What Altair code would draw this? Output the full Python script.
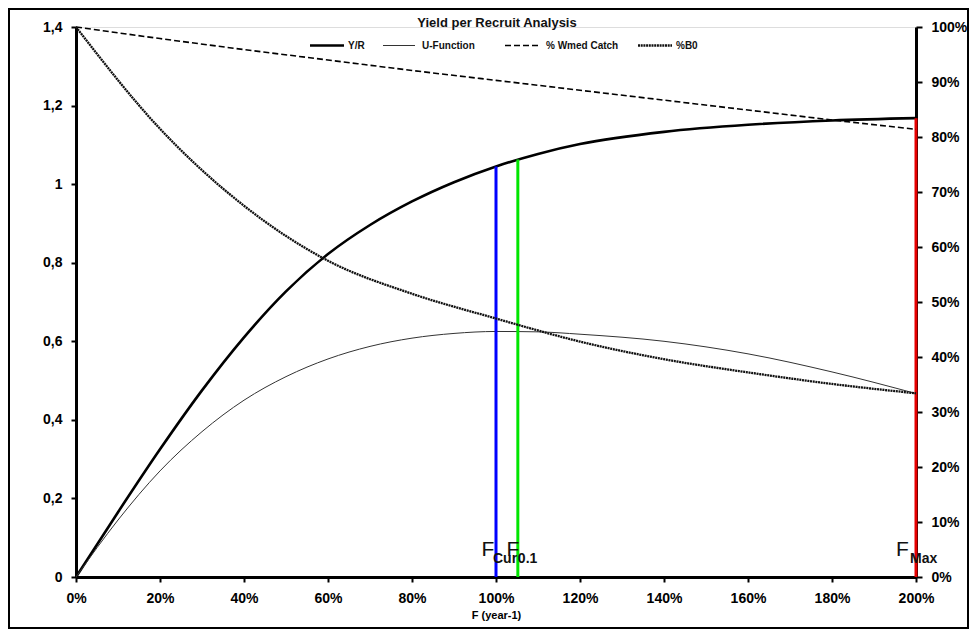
import altair as alt
import pandas as pd

# ---------------- data ----------------
F_curve = [0.0, 0.1, 0.2, 0.3, 0.4, 0.5, 0.6, 0.7, 0.8, 0.9, 1.0, 1.1, 1.2, 1.4, 1.6, 1.8, 2.0]
yield_per_recruit = [0.0, 0.165, 0.325, 0.475, 0.61, 0.727, 0.822, 0.896, 0.956, 1.005, 1.045,
                     1.077, 1.102, 1.133, 1.151, 1.162, 1.168]
u_function = [0.0, 0.145, 0.27, 0.37, 0.45, 0.51, 0.555, 0.587, 0.608, 0.62, 0.625,
              0.624, 0.618, 0.600, 0.568, 0.522, 0.467]

F_pct = [0.0, 0.2, 0.4, 0.6, 0.8, 1.0, 1.2, 1.4, 1.6, 1.8, 2.0]
wmed_catch_pct = [100, 97.9, 95.9, 94.0, 92.1, 90.3, 88.5, 86.7, 84.9, 83.1, 81.4]
b0_pct = [100, 81.5, 67.5, 57.5, 51.5, 47, 42.8, 39.6, 37.2, 35.1, 33.4]

ref_names = ["Cur", "0.1", "Max"]
ref_F = [1.0, 1.052, 2.0]
ref_top = [1.045, 1.063, 1.168]
ref_colors = ["#0000ff", "#00e600", "#e60000"]

x_ticks = [0.0, 0.2, 0.4, 0.6, 0.8, 1.0, 1.2, 1.4, 1.6, 1.8, 2.0]
left_ticks = [0.0, 0.2, 0.4, 0.6, 0.8, 1.0, 1.2, 1.4]
right_ticks = [0, 10, 20, 30, 40, 50, 60, 70, 80, 90, 100]

legend_names = ["Y/R", "U-Function", "% Wmed Catch", "%B0"]
title_text = "Yield per Recruit Analysis"
x_title = "F (year-1)"

# ---------------- tables ----------------
df_yr = pd.DataFrame({"F": F_curve, "value": yield_per_recruit})
df_u = pd.DataFrame({"F": F_curve, "value": u_function})
df_w = pd.DataFrame({"F": F_pct, "pct": wmed_catch_pct})
df_b = pd.DataFrame({"F": F_pct, "pct": b0_pct})
df_ref = pd.DataFrame({"name": ref_names, "F": ref_F, "top": ref_top,
                       "zero": [0.0] * len(ref_F), "color": ref_colors})

FONT = "Liberation Sans"

x_axis = alt.Axis(values=x_ticks, format=".0%", title=x_title, labelFlush=False,
                  labelFont=FONT, labelFontSize=14, labelFontWeight="bold", labelColor="black",
                  titleFont=FONT, titleFontSize=11, titleFontWeight="bold", titleColor="black",
                  titlePadding=4, labelPadding=9, domainColor="black", domainWidth=3,
                  tickColor="black", tickWidth=2, tickSize=5, grid=False, labelOverlap=False)
x_scale = alt.Scale(domain=[0, 2], nice=False, zero=False)

left_axis = alt.Axis(values=left_ticks, title=None,
                     labelExpr="replace(format(datum.value, '.1~f'), '.', ',')",
                     labelFont=FONT, labelFontSize=14, labelFontWeight="bold", labelColor="black",
                     labelPadding=9, domainColor="black", domainWidth=3,
                     tickColor="black", tickWidth=2, tickSize=5, grid=False)
left_scale = alt.Scale(domain=[0, 1.4], nice=False)

right_axis = alt.Axis(values=right_ticks, title=None, orient="right",
                      labelExpr="datum.value + '%'",
                      labelFont=FONT, labelFontSize=14, labelFontWeight="bold", labelColor="black",
                      labelPadding=9, domainColor="black", domainWidth=3,
                      tickColor="black", tickWidth=2, tickSize=6, grid=False)
right_scale = alt.Scale(domain=[0, 100], nice=False)

X = alt.X("F:Q", scale=x_scale, axis=x_axis)

# ---------------- left-axis group ----------------
yr_line = alt.Chart(df_yr).mark_line(interpolate="monotone", color="black", strokeWidth=2.6).encode(
    x=X, y=alt.Y("value:Q", scale=left_scale, axis=left_axis))
u_line = alt.Chart(df_u).mark_line(interpolate="monotone", color="#333333", strokeWidth=1.0).encode(
    x=X, y=alt.Y("value:Q", scale=left_scale, axis=left_axis))
ref_rules = alt.Chart(df_ref).mark_rule(strokeWidth=3).encode(
    x=X, y=alt.Y("zero:Q", scale=left_scale, axis=left_axis), y2="top:Q",
    color=alt.Color("color:N", scale=None))

f_dx = [-8, -5, -13.5]
sub_dx = [-3, 0, -6]
ref_texts = []
for i, nm in enumerate(ref_names):
    sub = df_ref[df_ref["name"] == nm]
    ref_texts.append(alt.Chart(sub).mark_text(text="F", font=FONT, fontSize=21, align="center",
                                              baseline="alphabetic", dx=f_dx[i], dy=-21,
                                              color="#111111").encode(
        x=X, y=alt.Y("zero:Q", scale=left_scale, axis=left_axis)))
    ref_texts.append(alt.Chart(sub).mark_text(font=FONT, fontSize=14, fontWeight="bold", align="left",
                                              baseline="alphabetic", dx=sub_dx[i], dy=-14,
                                              color="#111111").encode(
        x=X, y=alt.Y("zero:Q", scale=left_scale, axis=left_axis), text="name:N"))

left_group = alt.layer(yr_line, u_line, ref_rules, *ref_texts)

# ---------------- right-axis group ----------------
w_line = alt.Chart(df_w).mark_line(interpolate="monotone", color="black", strokeWidth=1.6,
                                   strokeDash=[6, 3]).encode(
    x=X, y=alt.Y("pct:Q", scale=right_scale, axis=right_axis))
b_line = alt.Chart(df_b).mark_line(interpolate="monotone", color="#111111", strokeWidth=2.3,
                                   strokeDash=[2, 0.7]).encode(
    x=X, y=alt.Y("pct:Q", scale=right_scale, axis=right_axis))
right_group = alt.layer(w_line, b_line)

# ---------------- decorations: title, legend, frame ----------------
base = alt.Chart(pd.DataFrame({"k": [0]}))
title_mark = base.mark_text(text=title_text, font=FONT, fontSize=13, fontWeight="bold",
                            align="center", baseline="alphabetic", color="#111111").encode(
    x=alt.value(421), y=alt.value(0))

leg_y = 18.5
leg_specs = [
    (234, 268, 272, dict(color="black", strokeWidth=2.6)),
    (307, 339, 346, dict(color="#333333", strokeWidth=1.0)),
    (429, 464, 470, dict(color="black", strokeWidth=1.6, strokeDash=[6, 3])),
    (562, 596, 600, dict(color="#111111", strokeWidth=2.3, strokeDash=[2, 0.7])),
]
legend_marks = []
for name, (a, b, t, style) in zip(legend_names, leg_specs):
    legend_marks.append(base.mark_rule(**style).encode(
        x=alt.value(a), x2=alt.value(b), y=alt.value(leg_y)))
    legend_marks.append(base.mark_text(text=name, font=FONT, fontSize=10, fontWeight="bold",
                                       align="left", baseline="middle", color="#111111").encode(
        x=alt.value(t), y=alt.value(leg_y)))

frame = base.mark_rect(fill="transparent", stroke="black", strokeWidth=2).encode(
    x=alt.value(-67), x2=alt.value(892), y=alt.value(-18), y2=alt.value(601))

chart = alt.layer(left_group, right_group, title_mark, *legend_marks, frame).resolve_scale(
    y="independent"
).properties(
    width=840, height=550,
    autosize=alt.AutoSizeParams(type="none"),
    padding={"left": 68, "top": 19, "right": 53, "bottom": 52},
).configure_view(stroke=None).configure(background="white")

chart.save("out.html", embed_options={"renderer": "svg", "actions": False})
